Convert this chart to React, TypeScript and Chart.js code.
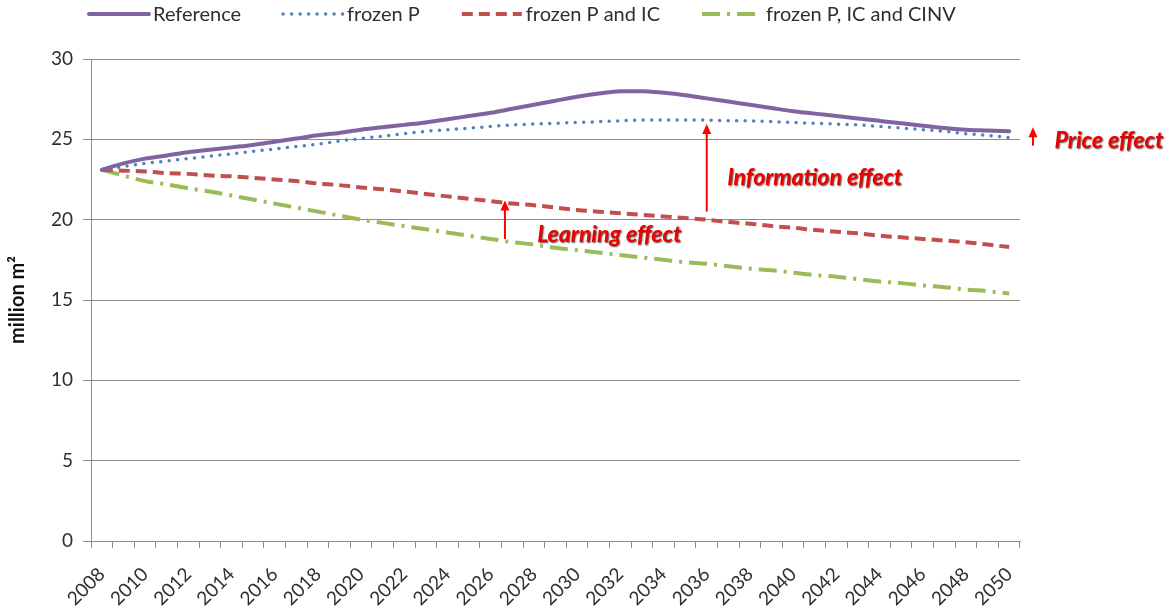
import { useEffect, useRef } from "react";
import { Chart, registerables } from "chart.js";

Chart.register(...registerables);

const years = [
  "2008", "2009", "2010", "2011", "2012", "2013", "2014", "2015", "2016", "2017",
  "2018", "2019", "2020", "2021", "2022", "2023", "2024", "2025", "2026", "2027",
  "2028", "2029", "2030", "2031", "2032", "2033", "2034", "2035", "2036", "2037",
  "2038", "2039", "2040", "2041", "2042", "2043", "2044", "2045", "2046", "2047",
  "2048", "2049", "2050",
];

const reference = [
  23.1, 23.5, 23.8, 24.0, 24.2, 24.35, 24.5, 24.65, 24.85, 25.05,
  25.25, 25.4, 25.6, 25.75, 25.9, 26.05, 26.25, 26.45, 26.65, 26.9,
  27.15, 27.4, 27.65, 27.85, 28.0, 28.0, 27.9, 27.75, 27.55, 27.35,
  27.15, 26.95, 26.75, 26.6, 26.45, 26.3, 26.15, 26.0, 25.85, 25.7,
  25.6, 25.55, 25.5,
];

const frozenP = [
  23.1, 23.3, 23.5, 23.65, 23.8, 23.95, 24.1, 24.25, 24.4, 24.55,
  24.7, 24.9, 25.05, 25.2, 25.35, 25.5, 25.6, 25.7, 25.8, 25.9,
  25.95, 26.0, 26.05, 26.1, 26.15, 26.2, 26.2, 26.2, 26.2, 26.15,
  26.15, 26.1, 26.05, 26.0, 25.95, 25.9, 25.8, 25.7, 25.6, 25.5,
  25.35, 25.25, 25.1,
];

const frozenPIC = [
  23.1, 23.05, 23.0, 22.9, 22.85, 22.75, 22.7, 22.6, 22.5, 22.4,
  22.25, 22.15, 22.0, 21.9, 21.75, 21.6, 21.45, 21.3, 21.15, 21.0,
  20.9, 20.75, 20.6, 20.5, 20.4, 20.3, 20.2, 20.1, 20.0, 19.85,
  19.75, 19.6, 19.5, 19.35, 19.25, 19.15, 19.0, 18.9, 18.8, 18.7,
  18.6, 18.45, 18.3,
];

const frozenPICCINV = [
  23.1, 22.75, 22.4, 22.2, 21.95, 21.75, 21.5, 21.25, 21.0, 20.75,
  20.5, 20.25, 20.0, 19.8, 19.6, 19.4, 19.2, 19.0, 18.8, 18.6,
  18.45, 18.25, 18.1, 17.95, 17.8, 17.65, 17.5, 17.35, 17.25, 17.1,
  16.95, 16.85, 16.7, 16.55, 16.45, 16.3, 16.15, 16.05, 15.9, 15.8,
  15.65, 15.55, 15.4,
];

const seriesNames = ["Reference", "frozen P", "frozen P and IC", "frozen P, IC and CINV"];

// Annotations (x in category-index units, y in data units)
const effectLabels = ["Information effect", "Learning effect", "Price effect"];
const effectLabelX = [28.95, 20.15, 44.1];
const effectLabelY = [22.65, 19.1, 24.9];
const arrowX = [28.0, 18.66, 43.1];
const arrowFrom = [20.5, 18.8, 24.6];
const arrowTo = [25.95, 21.2, 25.75];

const FONT = "Lato, 'Open Sans', sans-serif";
const GRID = "#8c8c8c";
const TEXT = "#2e2e2e";

const overlayPlugin = {
  id: "overlay",
  afterDraw(chart: any) {
    const ctx = chart.ctx as CanvasRenderingContext2D;
    const xs = chart.scales.x;
    const ys = chart.scales.y;
    // Legend
    ctx.save();
    let x = chart.chartArea.left - 2;
    const ly = 14;
    ctx.font = `20px ${FONT}`;
    ctx.textBaseline = "middle";
    ctx.textAlign = "left";
    chart.data.datasets.forEach((ds: any) => {
      ctx.save();
      ctx.strokeStyle = ds.borderColor;
      ctx.lineWidth = ds.borderWidth;
      ctx.lineCap = ds.borderCapStyle || "butt";
      ctx.setLineDash(ds.borderDash || []);
      ctx.beginPath();
      ctx.moveTo(x, ly);
      ctx.lineTo(x + 60, ly);
      ctx.stroke();
      ctx.restore();
      ctx.fillStyle = TEXT;
      ctx.fillText(ds.label, x + 64, ly + 1);
      x += 64 + ctx.measureText(ds.label).width + 42;
    });
    ctx.restore();

    // Arrows
    ctx.save();
    ctx.strokeStyle = "#ff0000";
    ctx.fillStyle = "#ff0000";
    ctx.lineWidth = 2;
    arrowX.forEach((ax, i) => {
      const px = xs.getPixelForValue(ax);
      const y0 = ys.getPixelForValue(arrowFrom[i]);
      const y1 = ys.getPixelForValue(arrowTo[i]);
      ctx.beginPath();
      ctx.moveTo(px, y0);
      ctx.lineTo(px, y1 + 8);
      ctx.stroke();
      ctx.beginPath();
      ctx.moveTo(px, y1);
      ctx.lineTo(px - 4.5, y1 + 10);
      ctx.lineTo(px + 4.5, y1 + 10);
      ctx.closePath();
      ctx.fill();
    });
    ctx.restore();

    // Labels
    ctx.save();
    ctx.font = `italic bold 23px ${FONT}`;
    ctx.textBaseline = "middle";
    ctx.textAlign = "left";
    effectLabels.forEach((t, i) => {
      const px = xs.getPixelForValue(effectLabelX[i]);
      const py = ys.getPixelForValue(effectLabelY[i]);
      ctx.save();
      ctx.shadowColor = "rgba(60,0,0,0.75)";
      ctx.shadowOffsetX = 1;
      ctx.shadowOffsetY = 1;
      ctx.shadowBlur = 1.5;
      ctx.fillStyle = "#ee0000";
      ctx.fillText(t, px, py);
      ctx.restore();
    });
    ctx.restore();
  },
};

export default function App() {
  const ref = useRef<HTMLCanvasElement>(null);
  useEffect(() => {
    if (!ref.current) return;
    const chart = new Chart(ref.current, {
      type: "line",
      data: {
        labels: years,
        datasets: [
          {
            label: seriesNames[0],
            data: reference,
            borderColor: "#8064A2",
            borderWidth: 4,
            borderCapStyle: "round",
            pointRadius: 0,
            tension: 0.4,
            cubicInterpolationMode: "monotone",
          },
          {
            label: seriesNames[1],
            data: frozenP,
            borderColor: "#4F81BD",
            borderWidth: 3.5,
            borderDash: [0, 8.5],
            borderCapStyle: "round",
            pointRadius: 0,
            tension: 0.4,
            cubicInterpolationMode: "monotone",
          },
          {
            label: seriesNames[2],
            data: frozenPIC,
            borderColor: "#C0504D",
            borderWidth: 4,
            borderDash: [11, 6],
            pointRadius: 0,
            tension: 0.4,
            cubicInterpolationMode: "monotone",
          },
          {
            label: seriesNames[3],
            data: frozenPICCINV,
            borderColor: "#9BBB59",
            borderWidth: 4,
            borderDash: [18, 7, 3, 7],
            pointRadius: 0,
            tension: 0.4,
            cubicInterpolationMode: "monotone",
          },
        ],
      },
      options: {
        responsive: false,
        animation: false,
        layout: { padding: { top: 59, right: 154, left: 0, bottom: 0 } },
        plugins: {
          legend: { display: false },
          tooltip: { enabled: false },
        },
        scales: {
          x: {
            offset: true,
            grid: { offset: true, drawOnChartArea: false, tickLength: 7, color: GRID },
            border: { color: GRID },
            ticks: {
              autoSkip: false,
              minRotation: 45,
              maxRotation: 45,
              padding: 15,
              color: TEXT,
              font: { family: FONT, size: 19 },
              callback: (_v: any, i: number) => (i % 2 === 0 ? years[i] : ""),
            },
            afterFit: (s: any) => {
              s.height = 73;
            },
          },
          y: {
            min: 0,
            max: 30,
            ticks: { stepSize: 5, color: TEXT, font: { family: FONT, size: 19 }, padding: 10 },
            grid: { color: GRID, tickLength: 8 },
            border: { color: GRID },
            title: {
              display: true,
              text: "million m²",
              color: "#111",
              font: { family: FONT, size: 20, weight: "bold" },
              padding: 6,
            },
            afterFit: (s: any) => {
              s.width = 91;
            },
          },
        },
      },
      plugins: [overlayPlugin],
    } as any);
    return () => chart.destroy();
  }, []);
  return (
    <div style={{ position: "fixed", left: 0, top: 0, width: 1174, height: 614, background: "#fff" }}>
      <canvas ref={ref} width={1174} height={614} />
    </div>
  );
}
